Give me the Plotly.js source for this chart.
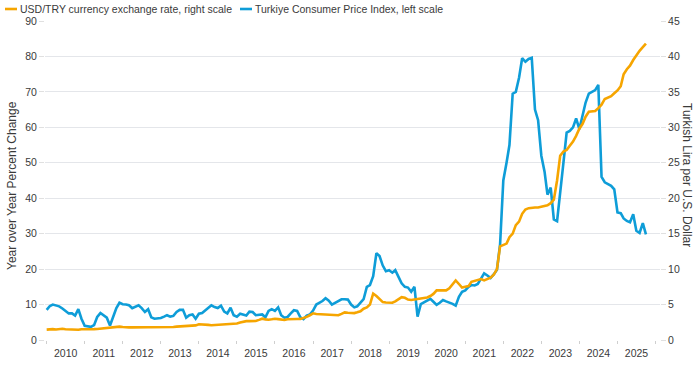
<!DOCTYPE html>
<html>
<head>
<meta charset="utf-8">
<script src="https://cdn.plot.ly/plotly-3.0.1.min.js"></script>
<style>html,body{margin:0;padding:0;background:#fff;}#chart{width:700px;height:365px;}</style>
</head>
<body>
<div id="chart"></div>
<script>
// Monthly series, January 2010 onward
const startYear = 2010;
const cpiYoY = [
  8.5, 9.6, 10.0, 9.8, 9.5, 8.9, 8.1, 7.5, 7.5, 6.9, 8.7, 6.0,
  4.0, 3.8, 3.7, 4.2, 6.5, 7.6, 6.9, 6.3, 4.1, 6.6, 9.0, 10.5,
  10.1, 10.0, 9.8, 9.0, 9.5, 9.8, 9.0, 7.9, 8.7, 6.4, 6.0, 6.0,
  6.2, 6.6, 7.0, 6.6, 6.8, 7.9, 8.5, 8.5, 6.3, 7.0, 7.2, 6.0,
  7.4, 7.6, 8.3, 9.2, 9.8, 9.3, 9.0, 9.7, 8.0, 7.5, 9.1, 7.0,
  6.6, 7.4, 7.1, 6.9, 8.0, 7.9, 7.0, 7.0, 7.2, 6.4, 8.2, 8.7,
  8.2, 9.2, 7.0, 6.3, 6.5, 7.5, 8.4, 8.2, 6.4, 5.9, 6.9, 7.2,
  8.3, 10.0, 10.5, 11.0, 11.8, 11.1, 10.0, 10.5, 11.0, 11.5, 11.5, 11.4,
  10.0, 9.2, 9.5, 10.4, 11.5, 15.0, 15.5, 18.0, 24.5, 23.7, 21.0, 19.4,
  19.7, 19.0, 19.7, 17.8, 16.0, 15.0, 14.8, 13.6, 15.0, 6.6, 10.1, 10.6,
  11.2, 11.6, 10.8, 9.9, 10.5, 11.3, 10.9, 10.6, 10.2, 9.7, 12.2, 13.6,
  14.0, 15.0, 15.5, 15.4, 15.8, 17.3, 18.8, 18.2, 17.5, 18.5, 19.8, 27.0,
  45.0, 50.0, 55.0, 69.5, 70.0, 74.0, 79.5, 78.5, 79.3, 79.6, 65.0, 62.0,
  52.0, 47.5, 41.0, 43.0, 34.0, 33.5, 41.0, 50.0, 58.5, 59.0, 60.0, 62.5,
  59.5, 63.0, 67.0, 69.5, 70.0, 70.5, 72.0, 46.0, 44.5, 44.0, 43.5, 42.5,
  36.0, 35.8, 34.3, 33.6, 33.2, 35.5, 30.8, 30.2, 33.0, 29.8
];
const usdTry = [
  1.47, 1.52, 1.53, 1.49, 1.55, 1.58, 1.52, 1.51, 1.50, 1.43, 1.44, 1.52,
  1.55, 1.59, 1.56, 1.54, 1.56, 1.60, 1.67, 1.76, 1.80, 1.78, 1.83, 1.89,
  1.83, 1.76, 1.78, 1.78, 1.80, 1.82, 1.81, 1.80, 1.80, 1.79, 1.79, 1.78,
  1.77, 1.78, 1.80, 1.80, 1.83, 1.89, 1.93, 1.96, 2.01, 1.98, 2.02, 2.06,
  2.22, 2.21, 2.22, 2.13, 2.09, 2.12, 2.13, 2.17, 2.21, 2.25, 2.24, 2.28,
  2.33, 2.47, 2.59, 2.66, 2.66, 2.70, 2.69, 2.84, 3.01, 2.91, 2.86, 2.92,
  3.00, 2.94, 2.87, 2.83, 2.93, 2.91, 2.96, 2.96, 2.98, 3.08, 3.26, 3.49,
  3.76, 3.66, 3.65, 3.64, 3.55, 3.52, 3.56, 3.51, 3.49, 3.68, 3.89, 3.85,
  3.77, 3.79, 3.90, 4.05, 4.42, 4.60, 5.00, 6.55, 6.20, 5.75, 5.35, 5.30,
  5.30, 5.25, 5.45, 5.75, 6.05, 5.95, 5.70, 5.65, 5.70, 5.75, 5.80, 5.90,
  6.00, 6.20, 6.50, 7.00, 7.00, 6.90, 7.00, 7.30, 7.80, 8.40, 7.90, 7.40,
  7.50, 7.60, 8.20, 8.30, 8.40, 8.60, 8.40, 8.60, 8.80, 9.20, 10.0, 13.2,
  13.4, 13.6, 14.5, 15.0, 16.2, 16.7, 17.8, 18.4, 18.6, 18.7, 18.7, 18.7,
  18.8, 18.9, 19.0, 19.3, 19.8, 22.5, 26.0, 26.6, 26.8, 27.4, 28.0, 28.8,
  29.8, 30.5, 31.5, 32.2, 32.3, 32.3, 32.7, 33.2, 34.0, 34.2, 34.4, 34.8,
  35.2, 35.8, 37.5, 38.2, 38.7, 39.5, 40.2, 40.8, 41.3, 41.8
];
const seriesNames = ["USD/TRY currency exchange rate, right scale", "Turkiye Consumer Price Index, left scale"];
const seriesColors = ["#F6A500", "#0E9DD8"];
const leftTitle = "Year over Year Percent Change";
const rightTitle = "Turkish Lira per U.S. Dollar";

function monthDates(n) {
  const out = [];
  for (let i = 0; i < n; i++) {
    const y = startYear + Math.floor(i / 12);
    const m = (i % 12) + 1;
    out.push(y + "-" + (m < 10 ? "0" + m : m) + "-01");
  }
  return out;
}

// layout geometry (pixels)
const W = 700, H = 365, L = 45, R = 40, T = 21, B = 25;
const pw = W - L - R, ph = H - T - B;
const px = x => (x - L) / pw;
const py = y => (H - B - y) / ph;

const font = "Liberation Sans, Arial, sans-serif";
const txt = "#3a3a3a";
const legY = 9;

const traces = [
  {x: monthDates(cpiYoY.length), y: cpiYoY, name: seriesNames[1], type: "scatter", mode: "lines",
   line: {color: seriesColors[1], width: 2.6}, yaxis: "y", showlegend: false},
  {x: monthDates(usdTry.length), y: usdTry, name: seriesNames[0], type: "scatter", mode: "lines",
   line: {color: seriesColors[0], width: 2.6}, yaxis: "y2", showlegend: false}
];

const layout = {
  width: W, height: H,
  margin: {l: L, r: R, t: T, b: B},
  paper_bgcolor: "#fff", plot_bgcolor: "#fff",
  font: {family: font, size: 10.5, color: txt},
  showlegend: false,
  xaxis: {
    type: "date", range: ["2009-12-16", "2026-02-13"],
    tick0: "2010-01-01", dtick: "M12", tickformat: "%Y", ticklabelmode: "period",
    ticks: "outside", ticklen: 3, tickcolor: "#cfcfcf", tickwidth: 1,
    showgrid: false, zeroline: false, showline: false,
    tickfont: {size: 10.5, color: txt}
  },
  yaxis: {
    range: [0, 90], dtick: 10, tick0: 0,
    gridcolor: "#e4e6ea", gridwidth: 1, zeroline: false, showline: false,
    ticks: "outside", ticklen: 5, tickcolor: "#e0e0e0",
    tickfont: {size: 10.5, color: txt}
  },
  yaxis2: {
    range: [0, 45], dtick: 5, tick0: 0, overlaying: "y", side: "right",
    showgrid: false, zeroline: false, showline: false,
    ticks: "outside", ticklen: 5, tickcolor: "#e0e0e0",
    tickfont: {size: 10.5, color: txt}
  },
  shapes: [
    {type: "line", xref: "paper", yref: "paper", x0: px(5), x1: px(17), y0: py(legY), y1: py(legY),
     line: {color: seriesColors[0], width: 2.6}},
    {type: "line", xref: "paper", yref: "paper", x0: px(240), x1: px(252), y0: py(legY), y1: py(legY),
     line: {color: seriesColors[1], width: 2.6}}
  ],
  annotations: [
    {xref: "paper", yref: "paper", x: px(18), y: py(legY), xanchor: "left", yanchor: "middle",
     text: seriesNames[0], showarrow: false, font: {size: 10.5, color: txt}},
    {xref: "paper", yref: "paper", x: px(253), y: py(legY), xanchor: "left", yanchor: "middle",
     text: seriesNames[1], showarrow: false, font: {size: 10.5, color: txt}},
    {xref: "paper", yref: "paper", x: px(12), y: py(186), xanchor: "center", yanchor: "middle",
     text: leftTitle, textangle: -90, showarrow: false, font: {size: 12, color: txt}},
    {xref: "paper", yref: "paper", x: px(687), y: py(175), xanchor: "center", yanchor: "middle",
     text: rightTitle, textangle: 90, showarrow: false, font: {size: 12, color: txt}}
  ]
};

Plotly.newPlot("chart", traces, layout, {displayModeBar: false, staticPlot: true});
</script>
</body>
</html>
